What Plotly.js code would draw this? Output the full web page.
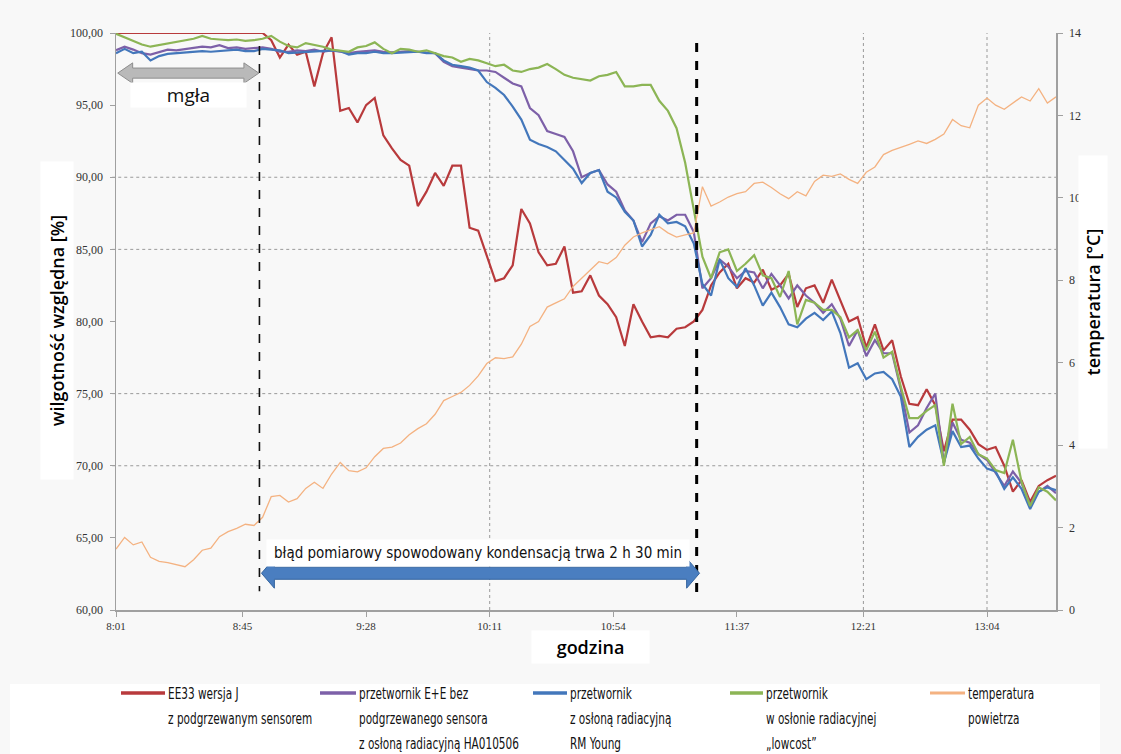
<!DOCTYPE html>
<html><head><meta charset="utf-8">
<script src="https://cdn.plot.ly/plotly-3.0.1.min.js"></script>
<style>html,body{margin:0;padding:0;background:#f8f8f8;}#chart{width:1121px;height:754px;}</style>
</head><body><div id="chart"></div>
<script>
// time in minutes of day (8:01 = 481)
const time = [481,484,487,490,493,496,499,502,505,508,
511,514,517,520,523,526,529,532,535,538,
541,544,547,550,553,556,559,562,565,568,
571,574,577,580,583,586,589,592,595,598,
601,604,607,610,613,616,619,622,625,628,
631,634,637,640,643,646,649,652,655,658,
661,664,667,670,673,676,679,682,685,688,
691,694,697,700,703,706,709,712,715,718,
721,724,727,730,733,736,739,742,745,748,
751,754,757,760,763,766,769,772,775,778,
781,784,787,790,793,796,799,802,805,808];

const tickTimes = [481,525,568,611,654,697,741,784];
const tickLabels = ['8:01','8:45','9:28','10:11','10:54','11:37','12:21','13:04'];

const rhEE33 = [100,100,100,100,100,100,100,100,100,100,
100,100,100,100,100,100,100,100,99.5,98.3,
99.2,98.5,98.7,96.3,98.6,99.7,94.6,94.8,93.8,95.0,
95.5,92.9,92.0,91.2,90.8,88.0,89.0,90.3,89.4,90.8,
90.8,86.5,86.3,84.5,82.8,83.0,83.9,87.8,86.8,84.8,
83.9,84.0,85.2,82.0,82.1,83.2,81.8,81.2,80.3,78.3,
81.2,80.0,78.9,79.0,78.9,79.5,79.6,80.0,80.8,82.5,
83.4,84.0,82.3,83.0,82.7,83.6,82.2,82.5,83.3,81.0,
82.3,82.5,81.3,82.9,81.5,80.0,80.3,78.2,79.8,78.0,
78.7,76.2,74.3,74.2,75.3,74.2,71.0,73.2,73.2,72.5,
71.5,71.1,71.3,70.0,68.2,69.0,67.5,68.6,69.0,69.3];

const rhEEbez = [98.8,99.05,98.85,98.6,98.5,98.7,98.85,98.8,98.9,99.0,
99.05,99.0,99.15,98.95,99.0,98.9,98.95,99.0,98.9,98.7,
98.7,98.8,98.75,98.85,98.7,98.8,98.7,98.6,98.7,98.75,
98.8,98.7,98.65,98.7,98.75,98.7,98.65,98.6,98.0,97.7,
97.6,97.5,97.4,97.4,97.3,96.9,96.5,96.3,94.8,94.3,
93.2,93.0,92.8,91.8,90.0,90.3,90.5,89.5,89.0,87.7,
87.0,85.5,86.8,87.3,87.0,87.4,87.4,86.2,82.3,83.0,
84.3,83.8,83.0,83.5,83.4,82.3,83.3,82.5,81.6,82.5,
81.8,81.3,80.6,81.2,80.2,78.3,79.4,77.6,78.7,77.8,
77.8,75.3,72.3,72.8,74.0,75.0,70.2,73.0,71.8,71.6,
70.8,70.4,69.5,68.6,69.6,68.8,67.3,68.2,68.6,68.1];

const rhRMYoung = [98.6,98.9,98.6,98.7,98.1,98.4,98.55,98.6,98.6,98.7,
98.75,98.7,98.75,98.8,98.85,98.75,98.75,98.9,98.85,98.8,
98.6,98.65,98.7,98.75,98.8,98.8,98.75,98.5,98.6,98.6,
98.7,98.6,98.6,98.65,98.7,98.7,98.6,98.6,98.1,97.8,
97.7,97.6,97.4,96.6,96.2,95.7,94.9,94.0,92.6,92.3,
92.1,91.8,91.2,90.6,89.6,90.3,90.5,89.0,88.6,87.6,
87.0,85.2,86.0,87.4,86.8,86.9,86.6,85.4,82.6,81.8,
84.3,83.0,82.4,83.7,82.5,81.1,82.0,81.0,79.8,79.6,
80.2,80.6,80.1,80.7,79.2,76.8,77.1,76.0,76.4,76.5,
76.0,74.8,71.3,72.0,72.5,72.8,70.2,72.4,71.3,71.4,
70.5,69.8,69.6,68.4,69.2,68.4,67.0,68.2,68.5,68.3];

const rhLowcost = [99.95,99.7,99.5,99.2,99.05,99.15,99.25,99.35,99.45,99.6,
99.8,99.6,99.55,99.5,99.55,99.45,99.5,99.6,99.8,99.4,
99.1,99.0,99.3,99.2,99.05,98.85,98.8,98.7,99.0,99.1,
99.35,98.9,98.6,98.9,98.85,98.7,98.8,98.6,98.4,98.3,
98.0,98.2,98.1,97.9,97.7,97.8,97.4,97.3,97.5,97.6,
97.85,97.5,97.1,96.9,96.8,96.7,97.0,97.1,97.3,96.3,
96.3,96.4,96.4,95.3,94.6,93.4,91.0,87.8,84.5,83.0,
84.8,85.0,83.5,84.0,84.6,83.2,83.0,81.7,83.5,79.8,
81.5,81.3,80.8,80.8,80.3,78.9,79.4,78.0,79.3,77.5,
77.9,75.5,73.3,73.3,73.8,74.2,70.0,74.3,71.5,72.0,
70.8,70.5,69.7,69.5,71.8,68.9,67.2,68.5,68.2,67.6];

const tempAir = [1.48,1.76,1.58,1.65,1.28,1.18,1.15,1.10,1.05,1.22,
1.45,1.50,1.78,1.90,1.98,2.08,2.05,2.25,2.75,2.78,
2.62,2.70,2.95,3.10,2.95,3.30,3.58,3.38,3.35,3.45,
3.72,3.92,3.95,4.05,4.25,4.40,4.52,4.75,5.08,5.18,
5.28,5.45,5.68,5.98,6.12,6.10,6.14,6.45,6.88,7.00,
7.35,7.45,7.55,7.85,8.05,8.25,8.45,8.40,8.55,8.85,
9.05,9.15,9.22,9.30,9.15,9.05,9.10,9.15,10.27,9.80,
9.90,10.02,10.10,10.15,10.35,10.38,10.25,10.10,9.98,10.15,
10.05,10.40,10.55,10.52,10.58,10.45,10.35,10.62,10.75,11.05,
11.15,11.22,11.30,11.38,11.32,11.42,11.55,11.90,11.75,11.70,
12.25,12.42,12.25,12.15,12.30,12.45,12.35,12.65,12.30,12.45];

const seriesNames = ['EE33 wersja J z podgrzewanym sensorem',
  'przetwornik E+E bez podgrzewanego sensora z osłoną radiacyjną HA010506',
  'przetwornik z osłoną radiacyjną RM Young',
  'przetwornik w osłonie radiacyjnej „lowcost”',
  'temperatura powietrza'];
const legendLines = [
  ['EE33 wersja J','z podgrzewanym sensorem'],
  ['przetwornik E+E bez','podgrzewanego sensora','z osłoną radiacyjną HA010506'],
  ['przetwornik','z osłoną radiacyjną','RM Young'],
  ['przetwornik','w osłonie radiacyjnej','„lowcost”'],
  ['temperatura','powietrza']];
const colors = ['#b83a3c','#7d60a8','#4377bb','#8cb555','#f4b281'];

// ---- layout helpers (pixel -> paper) ----
const L = 116, R = 1056, T = 33, B = 610;
const px = v => (v - L) / (R - L);
const py = v => (B - v) / (B - T);

const traces = [
  {x: time, y: rhEE33, name: seriesNames[0], line:{color:colors[0], width:2.2}},
  {x: time, y: rhEEbez, name: seriesNames[1], line:{color:colors[1], width:2.2}},
  {x: time, y: rhRMYoung, name: seriesNames[2], line:{color:colors[2], width:2.2}},
  {x: time, y: rhLowcost, name: seriesNames[3], line:{color:colors[3], width:2.2}},
  {x: time, y: tempAir, name: seriesNames[4], yaxis:'y2', line:{color:colors[4], width:1.3}}
].map(t => Object.assign({type:'scatter', mode:'lines', hoverinfo:'x+y'}, t));

const tickFont = {family:'Liberation Serif, DejaVu Serif, serif', size:11, color:'#333'};
const yTickFont = {family:'Liberation Serif, DejaVu Serif, serif', size:12, color:'#333'};
const narrow = 'DejaVu Sans Condensed, Liberation Sans Narrow, sans-serif';
const titleFont = {family:'Open Sans, Lato, sans-serif', size:18, color:'#000', weight:600};

const shapes = [];
const annotations = [];

// dotted gridlines
[90,85,75,70].forEach(v => shapes.push({type:'line', xref:'paper', yref:'y', x0:-0.004, x1:1, y0:v, y1:v,
  line:{color:'#9a9a9a', width:1, dash:'dot'}, layer:'below'}));
[611,741,784].forEach(v => shapes.push({type:'line', xref:'x', yref:'paper', x0:v, x1:v, y0:0, y1:1,
  line:{color:'#9a9a9a', width:1, dash:'dot'}, layer:'below'}));

// dashed event lines
shapes.push({type:'line', xref:'x', yref:'y', x0:530.9, x1:530.9, y0:99.1, y1:61.3,
  line:{color:'#111', width:1.6, dash:'dash'}});
shapes.push({type:'line', xref:'x', yref:'y', x0:683.0, x1:683.0, y0:99.3, y1:60.8,
  line:{color:'#000', width:3, dash:'dash'}});

// gray double arrow (mgła)
shapes.push({type:'path', xref:'x', yref:'y',
  path:'M 481.6,97.22 L 486.8,97.93 L 486.8,97.57 L 525.5,97.57 L 525.5,97.93 L 530.7,97.22 L 525.5,96.51 L 525.5,96.87 L 486.8,96.87 L 486.8,96.51 Z',
  fillcolor:'#b9b9b9', line:{color:'#8e8e8e', width:1}});
// blue double arrow
shapes.push({type:'path', xref:'x', yref:'y',
  path:'M 531.6,62.55 L 536.1,63.59 L 536.1,62.97 L 679.5,62.97 L 679.5,63.59 L 684.0,62.55 L 679.5,61.51 L 679.5,62.13 L 536.1,62.13 L 536.1,61.51 Z',
  fillcolor:'#4a7ec0', line:{color:'#35659f', width:1}});

annotations.push({xref:'x', yref:'y', x:506.2, y:95.7, text:'mgła', showarrow:false,
  font:{family:'Open Sans, sans-serif', size:19, color:'#111'}, bgcolor:'#ffffff', width:113, height:22});
annotations.push({xref:'x', yref:'y', x:606.8, y:63.95, text:'błąd pomiarowy spowodowany kondensacją trwa 2 h 30 min',
  showarrow:false, font:{family:narrow, size:15, color:'#111'}, bgcolor:'#ffffff', width:420, height:24});

// axis titles (white boxes)
annotations.push({xref:'paper', yref:'paper', x:px(40), y:py(321), text:'wilgotność względna [%]', textangle:-90,
  showarrow:false, font:titleFont, bgcolor:'#ffffff', width:315, height:30});
annotations.push({xref:'paper', yref:'paper', x:px(1108), y:py(302), text:'temperatura [°C]', textangle:-90,
  showarrow:false, font:titleFont, bgcolor:'#ffffff', width:290, height:26});
annotations.push({xref:'paper', yref:'paper', x:px(590), y:py(664), text:'godzina',
  showarrow:false, font:titleFont, bgcolor:'#ffffff', width:115, height:30});

// custom legend
const legX = [[121,165,166],[320,356,357],[533,567,568],[730,763,764],[930,965,966]];
const legY = [693,718,743];
shapes.push({type:'rect', xref:'paper', yref:'paper', x0:px(10), x1:px(1100), y0:py(684), y1:py(760),
  fillcolor:'#ffffff', line:{width:0}, layer:'below'});
const legStart = annotations.length;
legendLines.forEach((lines, i) => {
  shapes.push({type:'line', xref:'paper', yref:'paper', x0:px(legX[i][0]), x1:px(legX[i][1]), y0:py(legY[0]), y1:py(legY[0]),
    line:{color:colors[i], width: i===4 ? 3 : 3.5}});
  lines.forEach((txt, j) => annotations.push({xref:'paper', yref:'paper', x:px(legX[i][2]), y:py(legY[j]),
    xanchor:'left', yanchor:'middle', text:txt, showarrow:false, font:{family:narrow, size:16, color:'#111'}}));
});

const layout = {
  width:1121, height:754,
  margin:{l:L, r:1121-R, t:T, b:754-B},
  paper_bgcolor:'#f8f8f8', plot_bgcolor:'#f8f8f8',
  separators:', ',
  showlegend:false,
  xaxis:{range:[481,808], tickvals:tickTimes, ticktext:tickLabels, showgrid:false, zeroline:false,
    showline:true, linecolor:'#a0a0a0', linewidth:1.5, ticks:'outside', ticklen:5, tickcolor:'#a0a0a0',
    tickfont:tickFont},
  yaxis:{range:[60,100], dtick:5, tickformat:'.2f', showgrid:false, zeroline:false,
    showline:true, linecolor:'#a0a0a0', linewidth:1.5, ticks:'outside', ticklen:5, tickcolor:'#a0a0a0',
    tickfont:yTickFont, ticklabelstandoff:4},
  yaxis2:{range:[0,14], dtick:2, overlaying:'y', side:'right', showgrid:false, zeroline:false,
    showline:true, linecolor:'#a0a0a0', linewidth:1.5, ticks:'outside', ticklen:5, tickcolor:'#a0a0a0',
    tickfont:yTickFont, ticklabelstandoff:4},
  shapes, annotations
};

Plotly.newPlot('chart', traces, layout, {displayModeBar:false, staticPlot:true}).then(gd => {
  // the reference legend uses a condensed face: squeeze the legend text horizontally
  const s = 0.73;
  gd.querySelectorAll('.annotation').forEach(g => {
    const idx = +g.getAttribute('data-index');
    if (idx >= legStart) {
      const t = g.querySelector('text.annotation-text');
      if (!t) return;
      const bb = t.getBBox();
      t.setAttribute('transform', 'matrix(' + s + ',0,0,1,' + (bb.x * (1 - s)) + ',0)');
    }
  });
});
</script>
</body></html>
